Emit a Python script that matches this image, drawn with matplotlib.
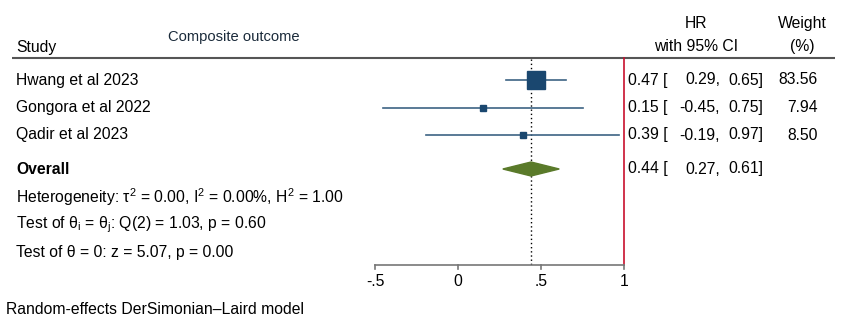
import numpy as np
import matplotlib
import matplotlib.pyplot as plt

plt.rcParams['font.family'] = ['Liberation Sans', 'DejaVu Sans']
plt.rcParams['mathtext.fontset'] = 'custom'
plt.rcParams['mathtext.rm'] = 'Liberation Sans'
plt.rcParams['mathtext.it'] = 'Liberation Sans'

# study data
studies = ['Hwang et al 2023', 'Gongora et al 2022', 'Qadir et al 2023']
hr = [0.47, 0.15, 0.39]
lo = [0.29, -0.45, -0.19]
hi = [0.65, 0.75, 0.97]
weight = [83.56, 7.94, 8.50]

overall = 0.44
overall_lo = 0.27
overall_hi = 0.61

xticks = [-0.5, 0, 0.5, 1]
xtick_labels = ['-.5', '0', '.5', '1']

stats = [r'Heterogeneity: τ$^2$ = 0.00, I$^2$ = 0.00%, H$^2$ = 1.00',
         r'Test of θ$_\mathrm{i}$ = θ$_\mathrm{j}$: Q(2) = 1.03, p = 0.60',
         'Test of θ = 0: z = 5.07, p = 0.00']

# layout (pixels)
W, H = 847, 324
x0px, unit = 458, 166
row_y = [80, 107.5, 135]
overall_y = 169
stats_y = [197, 224.5, 252]
axis_y = 265
head_y = 58

fig = plt.figure(figsize=(W / 100, H / 100), dpi=100)
ax = fig.add_axes([0, 0, 1, 1])
ax.set_xlim(-x0px / unit, (W - x0px) / unit)
ax.set_ylim(H, 0)
ax.axis('off')

def px(x):
    return (x - x0px) / unit

navy = '#1a476f'
fs = 11.3

def ci_text(y, est, l, h):
    ax.text(px(628), y, '{:.2f} ['.format(est), fontsize=fs, va='center')
    ax.text(px(720), y, '{:.2f},'.format(l), fontsize=fs, va='center', ha='right')
    ax.text(px(763), y, '{:.2f}]'.format(h), fontsize=fs, va='center', ha='right')

# header
ax.text(px(16), 52, 'Study', fontsize=fs, va='baseline')
ax.text(px(234), 41, 'Composite outcome', fontsize=10.6, ha='center', va='baseline', color='#1a2a3a')
ax.text(px(696), 28, 'HR', fontsize=fs, ha='center', va='baseline')
ax.text(px(696), 51, 'with 95% CI', fontsize=fs, ha='center', va='baseline')
ax.text(px(802), 28, 'Weight', fontsize=fs, ha='center', va='baseline')
ax.text(px(802), 51, '(%)', fontsize=fs, ha='center', va='baseline')
ax.plot([px(12), px(835)], [head_y, head_y], color='#555555', lw=1.5, solid_capstyle='butt')

# reference lines
ax.plot([1, 1], [head_y, axis_y], color='#c8102e', lw=1.2)
ax.plot([overall, overall], [head_y + 1, axis_y], color='black', lw=1, ls=(0, (1, 2)))

# studies
sizes = np.sqrt(np.array(weight) / max(weight)) * 18
for i, name in enumerate(studies):
    y = row_y[i]
    ax.text(px(16), y, name, fontsize=fs, va='center')
    ax.plot([lo[i], hi[i]], [y, y], color='#3d6384', lw=1.2, zorder=2)
    ax.plot(hr[i], y, marker='s', ms=sizes[i] * 0.72, color=navy, zorder=3)
    ci_text(y, hr[i], lo[i], hi[i])
    ax.text(px(818), y, '{:.2f}'.format(weight[i]), fontsize=fs, va='center', ha='right')

# overall
ax.text(px(16), overall_y, 'Overall', fontsize=fs, va='center', fontweight='bold')
ax.fill([overall_lo, overall, overall_hi, overall],
        [overall_y, overall_y - 7, overall_y, overall_y + 7], color='#5a7a2a', zorder=3)
ci_text(overall_y, overall, overall_lo, overall_hi)

for s, y in zip(stats, stats_y):
    ax.text(px(16), y, s, fontsize=fs, va='center')

# x axis
ax.plot([xticks[0], xticks[-1]], [axis_y, axis_y], color='#777777', lw=1.2)
for t, lab in zip(xticks, xtick_labels):
    ax.plot([t, t], [axis_y, axis_y + 4], color='#777777', lw=1.2)
    ax.text(t, axis_y + 21, lab, fontsize=fs, ha='center', va='baseline')

ax.text(px(6), 314, 'Random-effects DerSimonian–Laird model', fontsize=fs, va='baseline')

fig.savefig('out.png', dpi=100)
